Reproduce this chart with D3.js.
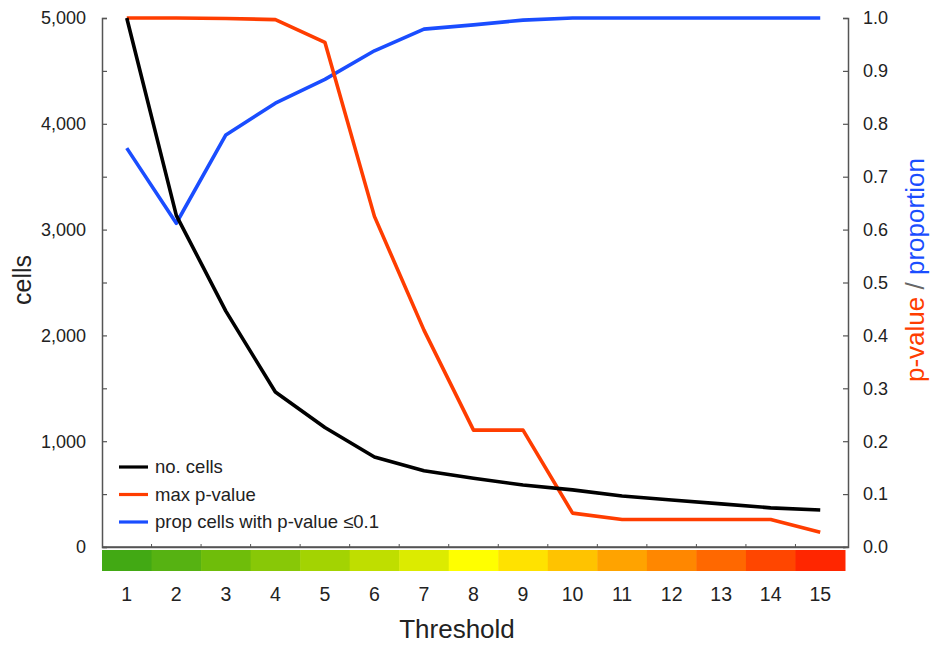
<!DOCTYPE html>
<html><head><meta charset="utf-8">
<script src="https://cdn.jsdelivr.net/npm/d3@7/dist/d3.min.js"></script>
<style>body{margin:0;background:#fff}svg{display:block;font-family:"Liberation Sans",Arial,sans-serif}</style>
</head><body><svg id="c" width="932" height="645"></svg>
<script>
const thresholds = [1,2,3,4,5,6,7,8,9,10,11,12,13,14,15];
const cells = [5000,3135,2230,1465,1130,850,720,650,586,540,482,444,408,370,350];
const maxP = [1.0,1.0,0.999,0.997,0.954,0.625,0.41,0.221,0.221,0.064,0.052,0.052,0.052,0.052,0.028];
const propP = [0.754,0.612,0.779,0.839,0.884,0.938,0.979,0.987,0.996,1.0,1.0,1.0,1.0,1.0,1.0];
const barColors = ["#42a914","#56b212","#6fbd0a","#88c807","#a3d302","#bfde00","#dceb00","#ffff00","#ffe200","#ffc300","#ffa300","#ff8700","#ff6800","#ff4600","#ff2600"];
const leftTicks = [0,500,1000,1500,2000,2500,3000,3500,4000,4500,5000];
const rightTicks = [0,0.1,0.2,0.3,0.4,0.5,0.6,0.7,0.8,0.9,1.0];
const legendItems = [["no. cells","#000"],["max p-value","#ff3d00"],["prop cells with p-value \u22640.1","#1a4dff"]];

const svg = d3.select("#c");
const L=102, R=848, T=18, B=547;
const x = d3.scaleBand().domain(thresholds).range([102,845]).padding(0);
const yL = d3.scaleLinear().domain([0,5000]).range([B,T]);
const yR = d3.scaleLinear().domain([0,1]).range([B,T]);
const axisCol = "#555";

// color bar
svg.append("g").selectAll("rect").data(thresholds).join("rect")
  .attr("x", d=>x(d)).attr("y",550).attr("width",x.bandwidth()+0.5).attr("height",21)
  .attr("fill",(d,i)=>barColors[i]);

// x labels
svg.append("g").selectAll("text").data(thresholds).join("text")
  .attr("x", d=>x(d)+x.bandwidth()/2).attr("y",601).attr("text-anchor","middle")
  .attr("font-size",19.5).attr("fill","#222").text(d=>d);

// left axis
const gl = svg.append("g").attr("transform",`translate(${L},0)`)
  .call(d3.axisRight(yL).tickValues(leftTicks).tickSize(5).tickFormat(""));
gl.select(".domain").attr("stroke",axisCol).attr("stroke-width",1.5);
gl.selectAll(".tick line").attr("stroke",axisCol).attr("stroke-width",1.2);
svg.append("g").selectAll("text").data(leftTicks.filter(d=>d%1000===0)).join("text")
  .attr("x",86).attr("y",d=>yL(d)).attr("dy","0.35em").attr("text-anchor","end")
  .attr("font-size",18).attr("fill","#222").text(d=>d3.format(",")(d));

// right axis
const gr = svg.append("g").attr("transform",`translate(${R},0)`)
  .call(d3.axisLeft(yR).tickValues(rightTicks).tickSize(5).tickFormat(""));
gr.select(".domain").attr("stroke",axisCol).attr("stroke-width",1.5);
gr.selectAll(".tick line").attr("stroke",axisCol).attr("stroke-width",1.2);
svg.append("g").selectAll("text").data(rightTicks).join("text")
  .attr("x",863).attr("y",d=>yR(d)).attr("dy","0.35em").attr("text-anchor","start")
  .attr("font-size",18).attr("fill","#222").text(d=>d3.format(".1f")(d));

// bottom axis
const gb = svg.append("g").attr("transform",`translate(0,${B})`)
  .call(d3.axisTop(x).tickSize(0).tickFormat(""));
gb.select(".domain").attr("stroke",axisCol).attr("stroke-width",1.5);
gb.selectAll(".tick").remove();
svg.append("g").selectAll("line").data(thresholds.slice(1)).join("line")
  .attr("x1",d=>x(d)).attr("x2",d=>x(d)).attr("y1",B).attr("y2",B-3)
  .attr("stroke",axisCol).attr("stroke-width",1);
svg.append("line").attr("x1",L).attr("x2",R).attr("y1",B).attr("y2",B).attr("stroke",axisCol).attr("stroke-width",1.5);

// lines
const cx = d=>x(d)+x.bandwidth()/2;
const lineL = d3.line().x((d,i)=>cx(thresholds[i])).y(d=>yL(d));
const lineR = d3.line().x((d,i)=>cx(thresholds[i])).y(d=>yR(d));
svg.append("path").datum(propP).attr("d",lineR).attr("fill","none").attr("stroke","#1a4dff").attr("stroke-width",3.6).attr("stroke-linejoin","round");
svg.append("path").datum(maxP).attr("d",lineR).attr("fill","none").attr("stroke","#ff3d00").attr("stroke-width",3.6).attr("stroke-linejoin","round");
svg.append("path").datum(cells).attr("d",lineL).attr("fill","none").attr("stroke","#000").attr("stroke-width",3.6).attr("stroke-linejoin","round");

// legend
const lg = svg.append("g");
legendItems.forEach((it,i)=>{
  const yy = 467 + i*27.5;
  lg.append("line").attr("x1",119).attr("x2",148).attr("y1",yy).attr("y2",yy).attr("stroke",it[1]).attr("stroke-width",3.2);
  lg.append("text").attr("x",155).attr("y",yy).attr("dy","0.35em").attr("font-size",18.5).attr("fill","#222").text(it[0]);
});

// axis titles
svg.append("text").attr("transform","translate(31,280) rotate(-90)").attr("text-anchor","middle")
  .attr("font-size",25).attr("fill","#222").text("cells");
svg.append("text").attr("x",457).attr("y",638).attr("text-anchor","middle")
  .attr("font-size",26).attr("fill","#222").text("Threshold");
const rt = svg.append("text").attr("transform","translate(924,270) rotate(-90)").attr("text-anchor","middle").attr("font-size",26);
rt.append("tspan").attr("fill","#ff3d00").text("p-value");
rt.append("tspan").attr("fill","#666").text(" / ");
rt.append("tspan").attr("fill","#1a4dff").text("proportion");
</script></body></html>
